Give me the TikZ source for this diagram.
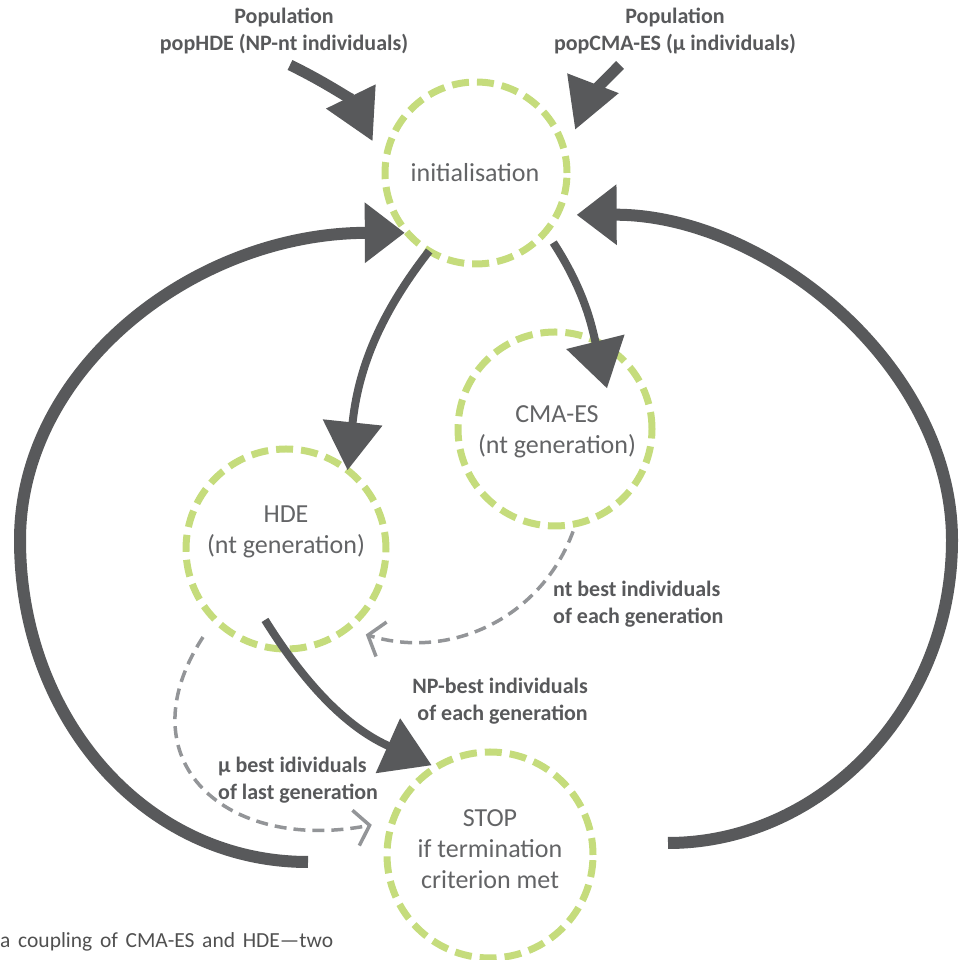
\documentclass[tikz,border=0pt]{standalone}
\usepackage{fontspec}
\setmainfont{Carlito}
\usetikzlibrary{arrows.meta,calc}
\definecolor{dk}{HTML}{58595B}
\definecolor{grn}{HTML}{C5DC7C}
\definecolor{lg}{HTML}{939598}
\definecolor{tx}{HTML}{636466}
\definecolor{capc}{HTML}{505050}
\begin{document}
\begin{tikzpicture}[x=1pt,y=1pt,
 proc/.style={circle, draw=grn, line width=7pt, dash pattern=on 17pt off 8pt, inner sep=0pt, outer sep=0pt},
 ctext/.style={text=tx, align=center, inner sep=0pt, font=\fontsize{26}{31}\selectfont},
 lbl/.style={text=dk, inner sep=0pt, font=\bfseries\fontsize{22}{27}\selectfont},
 bigarr/.style={draw=dk, line width=11pt, -{Triangle[length=50pt,width=52pt]}},
 midarr/.style={draw=dk, line width=8pt, -{Triangle[length=48pt,width=58pt]}},
 looparr/.style={draw=dk, line width=12pt, -{Triangle[length=40pt,width=58pt]}},
 feed/.style={draw=lg, line width=3.5pt, dash pattern=on 12pt off 7pt, -{Straight Barb[length=14pt,width=36pt]}},
]
\useasboundingbox (0,0) rectangle (961,960);

% process circles
\node[proc, minimum size=182pt] (init) at (476,787) {};
\node[ctext] (initT) at (475,787) {initialisation};
\node[proc, minimum size=194pt] (cma) at (555,531) {};
\node[ctext] (cmaT) at (557,528) {CMA-ES\\(nt generation)};
\node[proc, minimum size=200pt] (hde) at (286,411) {};
\node[ctext] (hdeT) at (286,428) {HDE\\(nt generation)};
\node[proc, minimum size=206pt] (stop) at (490,105) {};
\node[ctext] (stopT) at (490,111) {STOP\\if termination\\criterion met};

% labels
\node[lbl, align=center] (pHDE) at (284,929) {Population\\popHDE (NP-nt individuals)};
\node[lbl, align=center] (pCMA) at (675,929) {Population\\popCMA-ES (μ individuals)};
\node[lbl, align=left, anchor=west] (lnt) at (553,356) {nt best individuals\\of each generation};
\node[lbl, align=right, anchor=east] (lnp) at (588,259) {NP-best individuals\\of each generation};
\node[lbl, align=left, anchor=west] (lmu) at (218,180) {μ best idividuals\\of last generation};

\node[anchor=base west, inner sep=0pt, text=capc, font=\fontsize{21.5}{24}\selectfont] (cap) at (0,12) {\makebox[333pt][s]{a coupling of CMA-ES and HDE—two}};

% input arrows
\coordinate (sHDE) at (290,895);
\coordinate (sCMA) at (620,895);
\draw[bigarr] (sHDE) to[out=-26,in=116] ($(init.center)+(163:108)$);
\draw[bigarr] (sCMA) to[out=225,in=69] ($(init.center)+(23.5:108)$);

% flow arrows
\draw[midarr] (init.239) to[out=232,in=84] (hde.52);
\draw[midarr] ($(init.center)+(-42:104)$) to[out=-57,in=104] ($(cma.center)+(38:66)$);
\draw[midarr] ($(hde.center)+(253.5:74)$) to[out=-58,in=156] ($(stop.center)+(123:107)$);

% loops
\coordinate (lEnd) at (308,98);
\coordinate (rEnd) at (668,117);
\draw[looparr] (lEnd) .. controls (143,98) and (20,244) .. (20,420) .. controls (20,590) and (193,727) .. ($(init.center)+(220:93)$);
\draw[looparr] (rEnd) .. controls (820,117) and (952,250) .. (952,420) .. controls (952,595) and (765,746) .. ($(init.center)+(-22.6:109)$);

% feedback dashed arrows
\draw[feed] ($(cma.center)+(-80:104)$) to[out=250,in=-17] ($(hde.center)+(-47:117)$);
\draw[feed] ($(hde.center)+(226.7:121)$) to[out=237,in=191,looseness=1.5] ($(stop.center)+(165.7:122)$);
\end{tikzpicture}
\end{document}
